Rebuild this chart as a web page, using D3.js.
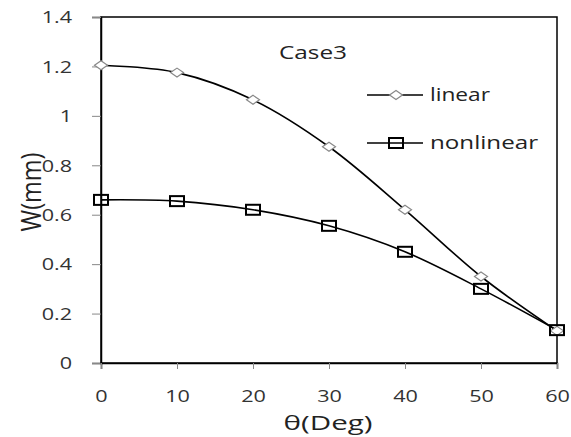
<!DOCTYPE html>
<html><head><meta charset="utf-8">
<script src="https://cdn.jsdelivr.net/npm/d3@7"></script>
<style>body{margin:0;background:#fff}svg{display:block}text{font-family:"Open Sans",sans-serif}</style>
</head><body>
<svg id="c" width="571" height="437"></svg>
<script>
const theta = [0, 10, 20, 30, 40, 50, 60];
const linear = [1.205, 1.175, 1.065, 0.875, 0.62, 0.35, 0.13];
const nonlinear = [0.66, 0.655, 0.62, 0.555, 0.45, 0.30, 0.133];
const xTicks = [0, 10, 20, 30, 40, 50, 60];
const yTicks = [0, 0.2, 0.4, 0.6, 0.8, 1, 1.2, 1.4];
const seriesNames = ["linear", "nonlinear"];
const caseLabel = "Case3";

const svg = d3.select("#c");
const L = 101, R = 557, T = 17, B = 363;
const x = d3.scaleLinear().domain([0, 60]).range([L, R]);
const y = d3.scaleLinear().domain([0, 1.4]).range([B, T]);

function stretch(sel, k) {
  sel.each(function () {
    const w = this.getComputedTextLength();
    d3.select(this).attr("textLength", w * k).attr("lengthAdjust", "spacingAndGlyphs");
  });
}

svg.append("rect").attr("x", L).attr("y", T).attr("width", R - L).attr("height", B - T)
  .attr("fill", "none").attr("stroke", "#000").attr("stroke-width", 1.5);

const yAxis = svg.append("g").attr("transform", `translate(${L},0)`)
  .call(d3.axisLeft(y).tickValues(yTicks).tickSize(9).tickPadding(20).tickFormat(d => String(+d.toFixed(1))));
const xAxis = svg.append("g").attr("transform", `translate(0,${B})`)
  .call(d3.axisBottom(x).tickValues(xTicks).tickSize(6).tickPadding(22));
[yAxis, xAxis].forEach(a => {
  a.attr("font-family", null);
  a.select(".domain").attr("stroke", "#000").attr("stroke-width", 1.5);
  a.selectAll(".tick line").attr("stroke", "#888");
  a.selectAll(".tick text").attr("fill", "#333").style("font-size", "16px");
  stretch(a.selectAll(".tick text"), 1.35);
});
yAxis.selectAll(".tick text").attr("dy", "0.36em");

const line = d3.line().x((d, i) => x(theta[i])).y(d => y(d)).curve(d3.curveCatmullRom.alpha(0.5));
svg.append("path").datum(linear).attr("d", line).attr("fill", "none").attr("stroke", "#000").attr("stroke-width", 1.6);
svg.append("path").datum(nonlinear).attr("d", line).attr("fill", "none").attr("stroke", "#000").attr("stroke-width", 1.6);

function diamond(g, cx, cy) {
  g.append("path").attr("d", `M${cx - 6.5},${cy}L${cx},${cy - 4.5}L${cx + 6.5},${cy}L${cx},${cy + 4.5}Z`)
    .attr("fill", "#fff").attr("stroke", "#888").attr("stroke-width", 1.2);
}
function square(g, cx, cy) {
  g.append("rect").attr("x", cx - 7).attr("y", cy - 5).attr("width", 14).attr("height", 10)
    .attr("fill", "none").attr("stroke", "#000").attr("stroke-width", 2);
}
const mk = svg.append("g");
linear.forEach((v, i) => diamond(mk, x(theta[i]), y(v)));
nonlinear.forEach((v, i) => square(mk, x(theta[i]), y(v)));

const lg = svg.append("g");
[[95, diamond, 60], [143, square, 108]].forEach(([ly, f, tw], i) => {
  lg.append("line").attr("x1", 367).attr("x2", 423).attr("y1", ly).attr("y2", ly).attr("stroke", "#000").attr("stroke-width", 1.6);
  f(lg, 396, ly);
  lg.append("text").attr("x", 430).attr("y", ly).attr("dy", "0.33em").style("font-size", "18px").attr("fill", "#222")
    .attr("textLength", tw).attr("lengthAdjust", "spacingAndGlyphs").text(seriesNames[i]);
});
svg.append("text").attr("x", 279).attr("y", 53).attr("dy", "0.35em").style("font-size", "18px").attr("fill", "#222")
  .attr("textLength", 68).attr("lengthAdjust", "spacingAndGlyphs").text(caseLabel);

svg.append("text").attr("transform", "translate(31,192) rotate(-90) scale(1,1.3)").attr("text-anchor", "middle").attr("dy", "0.35em")
  .style("font-size", "21px").attr("fill", "#222").attr("textLength", 79).attr("lengthAdjust", "spacingAndGlyphs").text("W(mm)");
svg.append("text").attr("x", 328).attr("y", 423).attr("text-anchor", "middle").attr("dy", "0.35em")
  .style("font-size", "20px").attr("fill", "#222").attr("textLength", 89).attr("lengthAdjust", "spacingAndGlyphs").text("θ(Deg)");
</script>
</body></html>
